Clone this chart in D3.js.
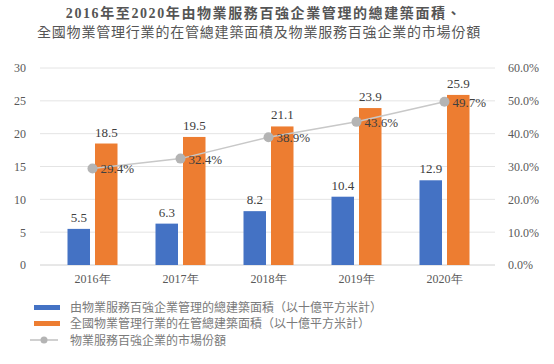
<!DOCTYPE html>
<html><head><meta charset="utf-8">
<script src="https://cdn.jsdelivr.net/npm/d3@7"></script>
<style>body{margin:0;background:#fff}svg{display:block}</style>
</head><body><svg id="c" width="554" height="364"></svg>
<script>
const years = ["2016年","2017年","2018年","2019年","2020年"];
const top100Area = [5.5, 6.3, 8.2, 10.4, 12.9];
const nationalArea = [18.5, 19.5, 21.1, 23.9, 25.9];
const marketShare = [29.4, 32.4, 38.9, 43.6, 49.7];
const leftTicks = [0,5,10,15,20,25,30];
const rightTicks = [0,10,20,30,40,50,60];
const titleLines = ["2016年至2020年由物業服務百強企業管理的總建築面積、","全國物業管理行業的在管總建築面積及物業服務百強企業的市場份額"];
const legendLabels = ["由物業服務百強企業管理的總建築面積（以十億平方米計）","全國物業管理行業的在管總建築面積（以十億平方米計）","物業服務百強企業的市場份額"];

const svg = d3.select("#c");
const serif = "'Liberation Serif','DejaVu Serif',serif";
const cjk = "'Noto Sans CJK TC','Noto Sans CJK SC',sans-serif";
const textCol = "#595959";

const x = d3.scaleBand().domain(years).range([48.5, 48.5+88*5]).paddingInner(0).paddingOuter(0);
const yL = d3.scaleLinear().domain([0,30]).range([265,68]);
const yR = d3.scaleLinear().domain([0,60]).range([265,68]);

// title
svg.selectAll("text.title").data(titleLines).join("text")
  .attr("x",(d,i)=> i===0 ? 264 : 259).attr("y",(d,i)=>18+i*19).attr("text-anchor","middle")
  .attr("font-family",(d,i)=> i===0 ? "'Liberation Serif','Noto Sans CJK TC',serif" : cjk)
  .attr("font-weight",(d,i)=> i===0 ? "bold":"normal")
  .attr("letter-spacing",(d,i)=> i===0 ? 1.6 : 0.8)
  .attr("font-size",14).attr("fill","#555").text(d=>d);

// gridlines
svg.append("g").selectAll("line").data(leftTicks).join("line")
  .attr("x1",40).attr("x2",495).attr("y1",d=>yL(d)).attr("y2",d=>yL(d))
  .attr("stroke",(d)=> d===0 ? "#d0d0d0":"#e4e4e4").attr("stroke-width",1);

// left axis
const gl = svg.append("g").attr("transform","translate(26,0)")
  .call(d3.axisLeft(yL).tickValues(leftTicks).tickSize(0).tickPadding(0));
gl.select(".domain").remove();
gl.selectAll("text").attr("font-family",serif).attr("font-size",12).attr("fill",textCol).attr("text-anchor","end");

// right axis
const gr = svg.append("g").attr("transform","translate(508,0)")
  .call(d3.axisRight(yR).tickValues(rightTicks).tickSize(0).tickPadding(0).tickFormat(d=>d.toFixed(1)+"%"));
gr.select(".domain").remove();
gr.selectAll("text").attr("font-family",serif).attr("font-size",12).attr("fill",textCol);

// x axis
const gx = svg.append("g").attr("transform","translate(0,265)")
  .call(d3.axisBottom(x).tickSize(0).tickPadding(9));
gx.select(".domain").remove();
gx.selectAll("text").attr("font-family",serif).attr("font-size",12).attr("fill",textCol);

const bw = 22.5, gap = 5;
const center = d => x(d)+x.bandwidth()/2;

// bars
svg.append("g").selectAll("rect").data(years).join("rect")
  .attr("x",d=>center(d)-gap/2-bw).attr("width",bw)
  .attr("y",(d,i)=>yL(top100Area[i])).attr("height",(d,i)=>yL(0)-yL(top100Area[i]))
  .attr("fill","#4472C4");
svg.append("g").selectAll("rect").data(years).join("rect")
  .attr("x",d=>center(d)+gap/2).attr("width",bw)
  .attr("y",(d,i)=>yL(nationalArea[i])).attr("height",(d,i)=>yL(0)-yL(nationalArea[i]))
  .attr("fill","#ED7D31");

// bar labels
svg.append("g").selectAll("text").data(years).join("text")
  .attr("x",d=>center(d)-gap/2-bw/2).attr("y",(d,i)=>yL(top100Area[i])-7)
  .attr("text-anchor","middle").attr("font-family",serif).attr("font-size",13).attr("fill","#404040")
  .text((d,i)=>top100Area[i].toFixed(1));
svg.append("g").selectAll("text").data(years).join("text")
  .attr("x",d=>center(d)+gap/2+bw/2).attr("y",(d,i)=>yL(nationalArea[i])-7)
  .attr("text-anchor","middle").attr("font-family",serif).attr("font-size",13).attr("fill","#404040")
  .text((d,i)=>nationalArea[i].toFixed(1));

// line
const line = d3.line().x((d,i)=>center(years[i])).y(d=>yR(d));
svg.append("path").datum(marketShare).attr("d",line).attr("fill","none")
  .attr("stroke","#c8c8c8").attr("stroke-width",1.5);
svg.append("g").selectAll("circle").data(marketShare).join("circle")
  .attr("cx",(d,i)=>center(years[i])).attr("cy",d=>yR(d)).attr("r",5).attr("fill","#b4b4b4");
svg.append("g").selectAll("text").data(marketShare).join("text")
  .attr("x",(d,i)=>center(years[i])+8).attr("y",d=>yR(d)+5)
  .attr("font-family",serif).attr("font-size",13).attr("fill","#404040")
  .text(d=>d.toFixed(1)+"%");

// legend
const lg = svg.append("g");
const rows = [307.5, 323.5, 340];
lg.append("rect").attr("x",34).attr("y",rows[0]-2.5).attr("width",26).attr("height",5).attr("fill","#4472C4");
lg.append("rect").attr("x",34).attr("y",rows[1]-2.5).attr("width",26).attr("height",5).attr("fill","#ED7D31");
lg.append("line").attr("x1",30).attr("x2",58).attr("y1",rows[2]).attr("y2",rows[2]).attr("stroke","#c0c0c0").attr("stroke-width",1.5);
lg.append("circle").attr("cx",44).attr("cy",rows[2]).attr("r",3.5).attr("fill","#b4b4b4");
lg.selectAll("text").data(legendLabels).join("text")
  .attr("x",70).attr("y",(d,i)=>rows[i]+4.5)
  .attr("font-family",cjk).attr("font-size",12).attr("fill","#7a7a7a").text(d=>d);
</script></body></html>
